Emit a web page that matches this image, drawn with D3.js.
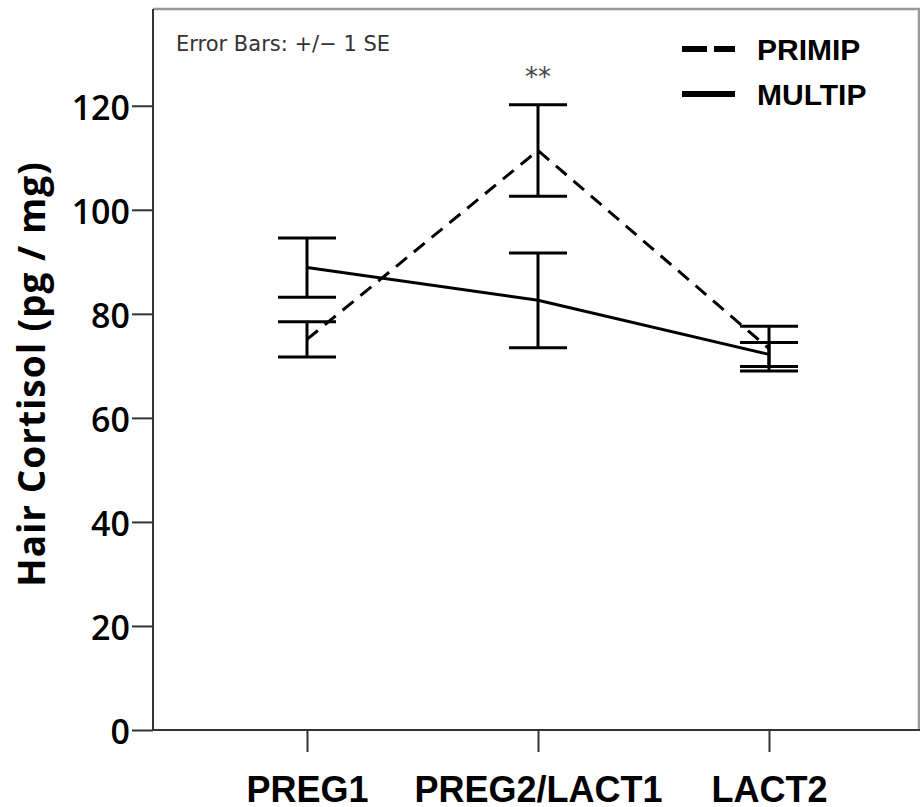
<!DOCTYPE html>
<html>
<head>
<meta charset="utf-8">
<script src="https://cdn.jsdelivr.net/npm/d3@7/dist/d3.min.js"></script>
<style>
  body { margin: 0; background: #fff; }
  svg { display: block; }
</style>
</head>
<body>
<div id="chart"></div>
<script>
// data
const phases = ['PREG1', 'PREG2/LACT1', 'LACT2'];
const yTicks = [0, 20, 40, 60, 80, 100, 120];

const primipMean = [75.1, 111.4, 73.3];
const primipSE   = [3.4, 8.8, 4.3];
const multipMean = [88.9, 82.6, 72.2];
const multipSE   = [5.7, 9.1, 2.3];

const width = 920, height = 807;
const plotLeft = 153, plotTop = 9, plotBottom = 730, plotRight = 919;

const svg = d3.select('#chart').append('svg')
  .attr('width', width)
  .attr('height', height);

const x = d3.scalePoint().domain(phases).range([307, 769]);
const y = d3.scaleLinear().domain([0, 138.6]).range([plotBottom, plotTop]);

// frame
svg.append('path')
  .attr('d', `M${plotLeft},${plotTop}H${plotRight}V${plotBottom}`)
  .attr('fill', 'none')
  .attr('stroke', '#999')
  .attr('stroke-width', 2.5);

// y axis
let yAxis = svg.append('g')
  .attr('transform', `translate(${plotLeft},0)`)
  .call(d3.axisLeft(y).tickValues(yTicks).tickSize(21).tickPadding(2).tickSizeOuter(0));
yAxis.select('.domain').remove();
yAxis.append('line')
  .attr('x1', 0).attr('x2', 0).attr('y1', plotTop).attr('y2', plotBottom)
  .attr('stroke', '#333').attr('stroke-width', 2);
yAxis.selectAll('.tick line').attr('stroke', '#333').attr('stroke-width', 2);
yAxis.selectAll('.tick text')
  .attr('fill', '#000')
  .attr('dy', '0.4em')
  .style('font-family', 'Open Sans')
  .style('font-weight', 600)
  .style('font-size', '34px');

// x axis
let xAxis = svg.append('g')
  .attr('transform', `translate(0,${plotBottom})`)
  .call(d3.axisBottom(x).tickSize(22).tickPadding(0).tickSizeOuter(0));
xAxis.select('.domain').remove();
xAxis.append('line')
  .attr('x1', plotLeft).attr('x2', width).attr('y1', 0).attr('y2', 0)
  .attr('stroke', '#333').attr('stroke-width', 2);
xAxis.selectAll('.tick line').attr('stroke', '#333').attr('stroke-width', 2);
xAxis.selectAll('.tick text')
  .attr('fill', '#000')
  .attr('dy', null)
  .attr('y', 72)
  .style('font-family', 'Liberation Sans')
  .style('font-weight', 'bold')
  .style('font-size', '36px');

// y label
svg.append('text')
  .attr('transform', `translate(45,374) rotate(-90)`)
  .attr('text-anchor', 'middle')
  .style('font-family', 'Open Sans')
  .style('font-weight', 'bold')
  .style('font-size', '37px')
  .style('letter-spacing', '1px')
  .text('Hair Cortisol (pg / mg)');

// error bars
function errorBars(mean, se) {
  const cap = 29;
  const g = svg.append('g').attr('stroke', '#000').attr('stroke-width', 3);
  phases.forEach((p, i) => {
    const cx = x(p), hi = y(mean[i] + se[i]), lo = y(mean[i] - se[i]);
    g.append('line').attr('x1', cx).attr('x2', cx).attr('y1', hi).attr('y2', lo);
    g.append('line').attr('x1', cx - cap).attr('x2', cx + cap).attr('y1', hi).attr('y2', hi);
    g.append('line').attr('x1', cx - cap).attr('x2', cx + cap).attr('y1', lo).attr('y2', lo);
  });
}
errorBars(primipMean, primipSE);
errorBars(multipMean, multipSE);

const line = d3.line().x((d, i) => x(phases[i])).y(d => y(d));

svg.append('path')
  .attr('d', line(primipMean))
  .attr('fill', 'none')
  .attr('stroke', '#000')
  .attr('stroke-width', 3)
  .attr('stroke-dasharray', '14,9');

svg.append('path')
  .attr('d', line(multipMean))
  .attr('fill', 'none')
  .attr('stroke', '#000')
  .attr('stroke-width', 3);

// annotations
svg.append('text')
  .attr('x', 176).attr('y', 51)
  .attr('fill', '#333')
  .style('font-family', 'DejaVu Sans')
  .style('font-size', '21px')
  .text('Error Bars: +/\u2212 1 SE');

svg.append('text')
  .attr('x', x('PREG2/LACT1')).attr('y', 86)
  .attr('text-anchor', 'middle')
  .attr('fill', '#444')
  .style('font-family', 'DejaVu Sans')
  .style('font-size', '26px')
  .text('**');

// legend
const legend = [
  { name: 'PRIMIP', dash: '25,7', ly: 49 },
  { name: 'MULTIP', dash: null, ly: 94 }
];
legend.forEach(d => {
  svg.append('line')
    .attr('x1', 682).attr('x2', 735).attr('y1', d.ly).attr('y2', d.ly)
    .attr('stroke', '#000').attr('stroke-width', 6)
    .attr('stroke-dasharray', d.dash);
  svg.append('text')
    .attr('x', 757).attr('y', d.ly + 11)
    .style('font-family', 'Liberation Sans')
    .style('font-weight', 'bold')
    .style('font-size', '30px')
    .text(d.name);
});
</script>
</body>
</html>
